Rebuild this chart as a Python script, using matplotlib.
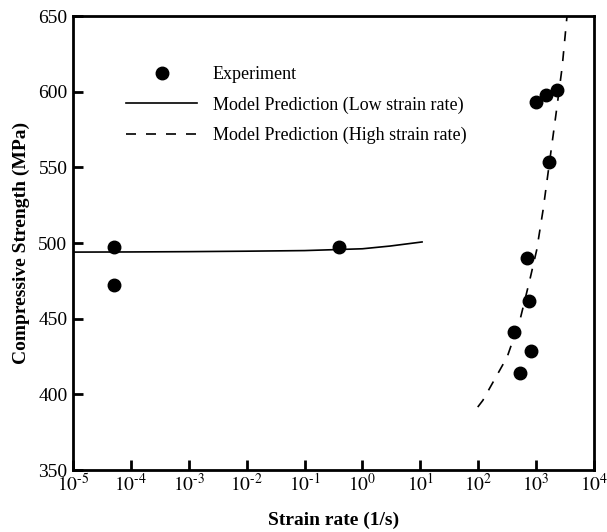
import matplotlib

matplotlib.use("Agg")
import matplotlib.pyplot as plt

plt.rcParams["font.family"] = ["Liberation Serif", "DejaVu Serif"]
plt.rcParams["mathtext.fontset"] = "stix"

# experimental data (strain rate 1/s, strength MPa)
exp_rate = [5.1e-5, 5.1e-5, 0.39, 417, 525, 690, 755, 815, 1000, 1490, 1660, 2290]
exp_strength = [497.4, 472.2, 497.4, 441.2, 414.1, 490, 461.7, 428.6, 593.2, 597.8, 553.5, 601.1]

# model prediction, low strain rate
low_rate = [1e-5, 1e-4, 1e-3, 1e-2, 1e-1, 1e0, 3e0, 1.07e1]
low_strength = [494.0, 494.1, 494.3, 494.6, 495.0, 496.2, 498.0, 500.7]

# model prediction, high strain rate
high_rate = [98, 120, 316, 525, 776, 1023, 1318, 2290, 2818, 3390, 3550]
high_strength = [391.6, 396, 424.7, 449, 475.5, 495.4, 521.8, 589.9, 616.3, 648.7, 655]

yticks = [350, 400, 450, 500, 550, 600, 650]
xticks = [1e-5, 1e-4, 1e-3, 1e-2, 1e-1, 1e0, 1e1, 1e2, 1e3, 1e4]
xticklabels = [r"$10^{\text{%d}}$" % e for e in range(-5, 5)]

fig = plt.figure(figsize=(6.07, 5.32), dpi=100)
ax = fig.add_axes([0.1203, 0.1165, 0.8583, 0.8534])

ax.plot(exp_rate, exp_strength, "o", color="black", markersize=9, label="Experiment", zorder=3)
ax.plot(low_rate, low_strength, "-", color="black", linewidth=1.2,
        label="Model Prediction (Low strain rate)")
ax.plot(high_rate, high_strength, "--", color="black", linewidth=1.2, dashes=(6, 6),
        label="Model Prediction (High strain rate)")

ax.set_xscale("log")
ax.set_xlim(1e-5, 1e4)
ax.set_ylim(350, 650)
ax.set_yticks(yticks)
ax.set_xticks(xticks)
ax.set_xticklabels(xticklabels)
ax.minorticks_off()
ax.tick_params(direction="in", length=7.5, width=2, labelsize=14, top=False, right=False, pad=4)
ax.tick_params(axis="x", pad=2)
for s in ax.spines.values():
    s.set_linewidth(2)

ax.set_xlabel("Strain rate (1/s)", fontsize=14, fontweight="bold", labelpad=12)
ax.set_ylabel("Compressive Strength (MPa)", fontsize=14, fontweight="bold", labelpad=6)

ax.legend(loc="upper left", bbox_to_anchor=(0.0845, 0.909), frameon=False, fontsize=13,
          handlelength=3.95, handletextpad=0.85, labelspacing=0.72, borderpad=0)

fig.savefig("out.png", dpi=100)
